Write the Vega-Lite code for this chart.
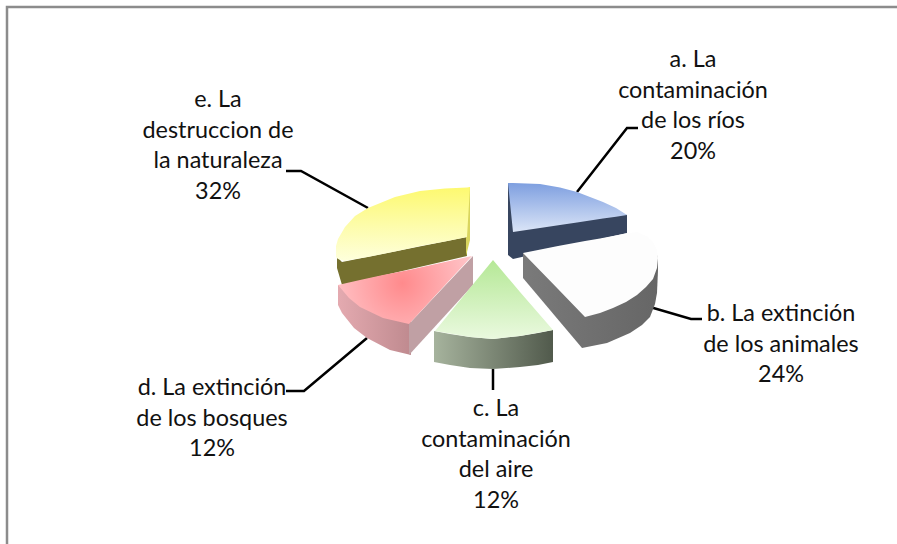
{"$schema":"https://vega.github.io/schema/vega-lite/v6.json","width":897,"height":544,"padding":0,"autosize":{"type":"none"},"background":"white","config":{"view":{"stroke":null}},
"datasets":{
"faces":[
{"part":"eSide","x":337,"y":257,"y2":268},{"part":"eSide","x":342,"y":262,"y2":285},{"part":"eSide","x":467,"y":237,"y2":256},
{"part":"eEdge","x":466,"y":190,"y2":256},{"part":"eEdge","x":470,"y":187,"y2":240},
{"part":"eTop","x":336,"y":246,"y2":257},{"part":"eTop","x":338,"y":239,"y2":259},{"part":"eTop","x":345,"y":227,"y2":261},{"part":"eTop","x":355,"y":216,"y2":259},{"part":"eTop","x":368,"y":208,"y2":257},{"part":"eTop","x":395,"y":197,"y2":251.5},{"part":"eTop","x":420,"y":191,"y2":246},{"part":"eTop","x":445,"y":188.5,"y2":241.5},{"part":"eTop","x":467,"y":187.5,"y2":237},{"part":"eTop","x":470,"y":187,"y2":187},
{"part":"aSide","x":508,"y":183,"y2":255},{"part":"aSide","x":513,"y":185,"y2":259},{"part":"aSide","x":627,"y":215,"y2":233},
{"part":"aTop","x":508,"y":183,"y2":183},{"part":"aTop","x":513,"y":183,"y2":232},{"part":"aTop","x":540,"y":184,"y2":228},{"part":"aTop","x":560,"y":187.5,"y2":225},{"part":"aTop","x":577,"y":192,"y2":222.5},{"part":"aTop","x":603,"y":202,"y2":218.6},{"part":"aTop","x":616,"y":208,"y2":216.8},{"part":"aTop","x":627,"y":215,"y2":215},
{"part":"bSide","x":523,"y":253,"y2":278},{"part":"bSide","x":582,"y":250,"y2":348},{"part":"bSide","x":607,"y":250,"y2":343},{"part":"bSide","x":630,"y":250,"y2":333},{"part":"bSide","x":642,"y":250,"y2":325},{"part":"bSide","x":650,"y":250,"y2":317},{"part":"bSide","x":655,"y":252,"y2":304},{"part":"bSide","x":657,"y":255,"y2":293},{"part":"bSide","x":658,"y":258,"y2":270},
{"part":"bTop","x":523,"y":253,"y2":253},{"part":"bTop","x":558,"y":246,"y2":289},{"part":"bTop","x":585,"y":241,"y2":317},{"part":"bTop","x":600,"y":238.5,"y2":313},{"part":"bTop","x":613,"y":236,"y2":308},{"part":"bTop","x":626,"y":233.5,"y2":302},{"part":"bTop","x":637,"y":232,"y2":295},{"part":"bTop","x":646,"y":236,"y2":287},{"part":"bTop","x":653,"y":242,"y2":279},{"part":"bTop","x":657,"y":250,"y2":268},{"part":"bTop","x":658,"y":258,"y2":258},
{"part":"dFront","x":338,"y":285,"y2":305},{"part":"dFront","x":342,"y":285,"y2":313},{"part":"dFront","x":354,"y":283,"y2":328},{"part":"dFront","x":367,"y":280,"y2":338},{"part":"dFront","x":390,"y":275,"y2":350},{"part":"dFront","x":411,"y":270,"y2":355},
{"part":"dCut","x":409,"y":324,"y2":355},{"part":"dCut","x":473,"y":256,"y2":285},
{"part":"dTop","x":338,"y":285,"y2":285},{"part":"dTop","x":349,"y":282.5,"y2":298},{"part":"dTop","x":360,"y":280,"y2":307},{"part":"dTop","x":383,"y":275,"y2":318},{"part":"dTop","x":409,"y":270,"y2":324},{"part":"dTop","x":472,"y":256,"y2":256},
{"part":"cSide","x":434,"y":331,"y2":362},{"part":"cSide","x":450,"y":334,"y2":365},{"part":"cSide","x":470,"y":337,"y2":368},{"part":"cSide","x":493,"y":339,"y2":369},{"part":"cSide","x":520,"y":336,"y2":367},{"part":"cSide","x":538,"y":333,"y2":365},{"part":"cSide","x":553,"y":330,"y2":362},
{"part":"cTop","x":435,"y":331,"y2":331},{"part":"cTop","x":470,"y":288,"y2":337},{"part":"cTop","x":493,"y":260,"y2":339},{"part":"cTop","x":520,"y":292,"y2":336},{"part":"cTop","x":553,"y":330,"y2":330}],
"lines":[
{"id":"a","i":0,"x":577,"y":192},{"id":"a","i":1,"x":627,"y":128},{"id":"a","i":2,"x":638,"y":128},
{"id":"b","i":0,"x":650,"y":307},{"id":"b","i":1,"x":691,"y":319},{"id":"b","i":2,"x":702,"y":319},
{"id":"c","i":0,"x":493,"y":369},{"id":"c","i":1,"x":493,"y":390},
{"id":"d","i":0,"x":367,"y":338},{"id":"d","i":1,"x":304,"y":391},{"id":"d","i":2,"x":286,"y":391},
{"id":"e","i":0,"x":368,"y":208},{"id":"e","i":1,"x":301,"y":171},{"id":"e","i":2,"x":286,"y":171}],
"frame":[{"id":"f","i":0,"x":7,"y":544},{"id":"f","i":1,"x":7,"y":7},{"id":"f","i":2,"x":897,"y":7}],
"labels":[
{"slice":"a","percent":20,"label":"a. La\ncontaminación\nde los ríos\n20%","x":693,"y":67},
{"slice":"b","percent":24,"label":"b. La extinción\nde los animales\n24%","x":781,"y":321},
{"slice":"c","percent":12,"label":"c. La\ncontaminación\ndel aire\n12%","x":496,"y":416},
{"slice":"d","percent":12,"label":"d. La extinción\nde los bosques\n12%","x":212,"y":395},
{"slice":"e","percent":32,"label":"e. La\ndestruccion de\nla naturaleza\n32%","x":218,"y":107}]},
"encoding":{"x":{"field":"x","type":"quantitative","scale":{"domain":[0,897],"nice":false,"zero":false},"axis":null},"y":{"field":"y","type":"quantitative","scale":{"domain":[544,0],"nice":false,"zero":false},"axis":null}},
"layer":[
{"data":{"name":"frame"},"mark":{"type":"line","stroke":"#8c8c8c","strokeWidth":2.5,"clip":false},"encoding":{"order":{"field":"i"}}},
{"data":{"name":"lines"},"mark":{"type":"line","stroke":"black","strokeWidth":2.5},"encoding":{"detail":{"field":"id"},"order":{"field":"i"}}},
{"data":{"name":"faces"},"transform":[{"filter":"datum.part==='eSide'"}],"mark":{"type":"area","fill":"#75702f"},"encoding":{"y2":{"field":"y2"}}},
{"data":{"name":"faces"},"transform":[{"filter":"datum.part==='eEdge'"}],"mark":{"type":"area","fill":"#d9d55e"},"encoding":{"y2":{"field":"y2"}}},
{"data":{"name":"faces"},"transform":[{"filter":"datum.part==='eTop'"}],"mark":{"type":"area","fill":{"gradient":"linear","x1":0,"y1":0,"x2":0,"y2":1,"stops":[{"offset":0,"color":"#fdf96f"},{"offset":0.5,"color":"#fdfca8"},{"offset":1,"color":"#feffdc"}]}},"encoding":{"y2":{"field":"y2"}}},
{"data":{"name":"faces"},"transform":[{"filter":"datum.part==='aSide'"}],"mark":{"type":"area","fill":"#37455f"},"encoding":{"y2":{"field":"y2"}}},
{"data":{"name":"faces"},"transform":[{"filter":"datum.part==='aTop'"}],"mark":{"type":"area","fill":{"gradient":"linear","x1":0,"y1":0,"x2":0,"y2":1,"stops":[{"offset":0,"color":"#7e9fe0"},{"offset":1,"color":"#dbe5f7"}]}},"encoding":{"y2":{"field":"y2"}}},
{"data":{"name":"faces"},"transform":[{"filter":"datum.part==='bSide'"}],"mark":{"type":"area","fill":{"gradient":"linear","x1":0,"y1":0,"x2":1,"y2":0,"stops":[{"offset":0,"color":"#7a7a7a"},{"offset":1,"color":"#666666"}]}},"encoding":{"y2":{"field":"y2"}}},
{"data":{"name":"faces"},"transform":[{"filter":"datum.part==='bTop'"}],"mark":{"type":"area","fill":"#fdfdfd"},"encoding":{"y2":{"field":"y2"}}},
{"data":{"name":"faces"},"transform":[{"filter":"datum.part==='dFront'"}],"mark":{"type":"area","fill":{"gradient":"linear","x1":0,"y1":0,"x2":1,"y2":0,"stops":[{"offset":0,"color":"#e4aab0"},{"offset":1,"color":"#bf8a8f"}]}},"encoding":{"y2":{"field":"y2"}}},
{"data":{"name":"faces"},"transform":[{"filter":"datum.part==='dCut'"}],"mark":{"type":"area","fill":"#c0a0a4"},"encoding":{"y2":{"field":"y2"}}},
{"data":{"name":"faces"},"transform":[{"filter":"datum.part==='dTop'"}],"mark":{"type":"area","fill":{"gradient":"radial","x1":0.48,"y1":0.45,"r1":0,"x2":0.48,"y2":0.45,"r2":0.55,"stops":[{"offset":0,"color":"#ff8a8c"},{"offset":1,"color":"#ffc6ca"}]}},"encoding":{"y2":{"field":"y2"}}},
{"data":{"name":"faces"},"transform":[{"filter":"datum.part==='cSide'"}],"mark":{"type":"area","fill":{"gradient":"linear","x1":0,"y1":0,"x2":1,"y2":0,"stops":[{"offset":0,"color":"#a6b39d"},{"offset":1,"color":"#515a4c"}]}},"encoding":{"y2":{"field":"y2"}}},
{"data":{"name":"faces"},"transform":[{"filter":"datum.part==='cTop'"}],"mark":{"type":"area","fill":{"gradient":"linear","x1":0,"y1":0,"x2":0,"y2":1,"stops":[{"offset":0,"color":"#b5e896"},{"offset":1,"color":"#eaf9df"}]}},"encoding":{"y2":{"field":"y2"}}},
{"data":{"name":"labels"},"mark":{"type":"text","font":"Lato","fontSize":23.4,"lineBreak":"\n","lineHeight":30.5,"align":"center","baseline":"alphabetic","color":"#111111"},"encoding":{"text":{"field":"label"}}}
]}
